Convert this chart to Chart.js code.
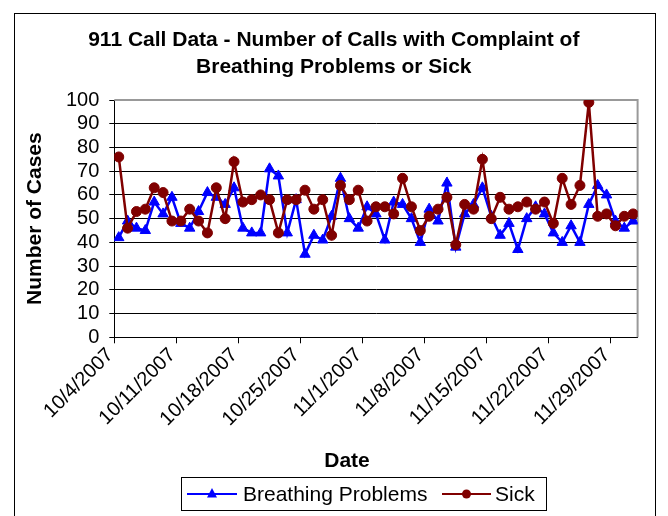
<!DOCTYPE html>
<html>
<head>
<meta charset="utf-8">
<script src="https://cdn.jsdelivr.net/npm/chart.js@4.4.1/dist/chart.umd.min.js"></script>
<style>
  html, body { margin: 0; padding: 0; background: #fff; }
  #wrap { width: 668px; height: 516px; }
</style>
</head>
<body>
<div id="wrap"><canvas id="myChart" width="668" height="516"></canvas></div>
<script>
// one entry per day, 10/4/2007 .. 12/1/2007
const dates = [
  '10/4/2007', '10/5/2007', '10/6/2007', '10/7/2007', '10/8/2007', '10/9/2007', '10/10/2007',
  '10/11/2007', '10/12/2007', '10/13/2007', '10/14/2007', '10/15/2007', '10/16/2007', '10/17/2007',
  '10/18/2007', '10/19/2007', '10/20/2007', '10/21/2007', '10/22/2007', '10/23/2007', '10/24/2007',
  '10/25/2007', '10/26/2007', '10/27/2007', '10/28/2007', '10/29/2007', '10/30/2007', '10/31/2007',
  '11/1/2007', '11/2/2007', '11/3/2007', '11/4/2007', '11/5/2007', '11/6/2007', '11/7/2007',
  '11/8/2007', '11/9/2007', '11/10/2007', '11/11/2007', '11/12/2007', '11/13/2007', '11/14/2007',
  '11/15/2007', '11/16/2007', '11/17/2007', '11/18/2007', '11/19/2007', '11/20/2007', '11/21/2007',
  '11/22/2007', '11/23/2007', '11/24/2007', '11/25/2007', '11/26/2007', '11/27/2007', '11/28/2007',
  '11/29/2007', '11/30/2007', '12/1/2007'
];

const breathing = [
  42, 49, 46, 45, 57, 52, 59, 48, 46, 53,
  61, 59, 56, 63, 46, 44, 44, 71, 68, 44,
  58, 35, 43, 41, 51, 67, 50, 46, 55, 52,
  41, 57, 56, 50, 40, 54, 49, 65, 38, 52,
  56, 63, 51, 43, 48, 37, 50, 55, 52, 44,
  40, 47, 40, 56, 64, 60, 49, 46, 49
];

const sick = [
  76, 46, 53, 54, 63, 61, 49, 49, 54, 49,
  44, 63, 50, 74, 57, 58, 60, 58, 44, 58,
  58, 62, 54, 58, 43, 64, 58, 62, 49, 55,
  55, 52, 67, 55, 45, 51, 54, 59, 39, 56,
  54, 75, 50, 59, 54, 55, 57, 54, 57, 48,
  67, 56, 64, 99, 51, 52, 47, 51, 52
];

const seriesNames = ['Breathing Problems', 'Sick'];
const FONT = '"Liberation Sans", Arial, sans-serif';

// points sit in the middle of each day slot, ticks on the day boundaries
const toPoints = arr => arr.map((v, i) => ({ x: i + 0.5, y: v }));

// outer chart frame
const framePlugin = {
  id: 'frame',
  beforeDraw(chart) {
    const ctx = chart.ctx;
    ctx.save();
    ctx.fillStyle = '#fff';
    ctx.fillRect(0, 0, chart.width, chart.height);
    ctx.strokeStyle = '#000';
    ctx.lineWidth = 1;
    ctx.strokeRect(14.5, 13.5, 641, 520);
    ctx.restore();
  }
};

// grey plot area border on top and right
const plotBorder = {
  id: 'plotBorder',
  beforeDatasetsDraw(chart) {
    const { ctx, chartArea: a } = chart;
    ctx.save();
    ctx.strokeStyle = '#999';
    ctx.lineWidth = 2;
    ctx.beginPath();
    ctx.moveTo(a.left, a.top);
    ctx.lineTo(a.right, a.top);
    ctx.lineTo(a.right, a.bottom);
    ctx.stroke();
    ctx.restore();
  }
};

// x title and the boxed legend, drawn like the Excel original
const legendBox = {
  id: 'legendBox',
  afterDraw(chart) {
    const ctx = chart.ctx;
    ctx.save();
    ctx.fillStyle = '#000';
    ctx.font = 'bold 21px ' + FONT;
    ctx.textAlign = 'center';
    ctx.textBaseline = 'middle';
    ctx.fillText('Date', 347, 461);

    ctx.strokeStyle = '#000';
    ctx.lineWidth = 1;
    ctx.strokeRect(181.5, 477.5, 365, 33);

    const y = 494;
    const items = [
      { x0: 187, x1: 237, tx: 243, color: '#0000ff', shape: 'triangle' },
      { x0: 442, x1: 491, tx: 495, color: '#800000', shape: 'circle' }
    ];
    ctx.font = '21px ' + FONT;
    ctx.textAlign = 'left';
    items.forEach((it, k) => {
      ctx.strokeStyle = it.color;
      ctx.fillStyle = it.color;
      ctx.lineWidth = 2;
      ctx.beginPath();
      ctx.moveTo(it.x0, y);
      ctx.lineTo(it.x1, y);
      ctx.stroke();
      const cx = (it.x0 + it.x1) / 2;
      ctx.beginPath();
      if (it.shape === 'triangle') {
        ctx.moveTo(cx, y - 6);
        ctx.lineTo(cx + 5, y + 3.5);
        ctx.lineTo(cx - 5, y + 3.5);
        ctx.closePath();
      } else {
        ctx.arc(cx, y, 4.5, 0, Math.PI * 2);
      }
      ctx.fill();
      ctx.fillStyle = '#000';
      ctx.fillText(seriesNames[k], it.tx, y + 1);
    });
    ctx.restore();
  }
};

const ctx = document.getElementById('myChart');
new Chart(ctx, {
  type: 'line',
  data: {
    datasets: [
      {
        label: seriesNames[0],
        data: toPoints(breathing),
        borderColor: '#0000ff',
        backgroundColor: '#0000ff',
        borderWidth: 2.5,
        pointStyle: 'triangle',
        pointRadius: 6,
        pointBorderWidth: 1,
        tension: 0,
        order: 1
      },
      {
        label: seriesNames[1],
        data: toPoints(sick),
        borderColor: '#800000',
        backgroundColor: '#800000',
        borderWidth: 2.5,
        pointStyle: 'circle',
        pointRadius: 5,
        pointBorderWidth: 1,
        tension: 0,
        order: 0
      }
    ]
  },
  options: {
    responsive: false,
    animation: false,
    devicePixelRatio: 1,
    layout: { padding: { left: 30, right: 30.4, top: 14, bottom: 0 } },
    plugins: {
      legend: { display: false },
      tooltip: { enabled: false },
      title: {
        display: true,
        text: ['911 Call Data - Number of Calls with Complaint of', 'Breathing Problems or Sick'],
        color: '#000',
        font: { family: FONT, size: 21, weight: 'bold', lineHeight: 1.286 },
        padding: { top: 12.5, bottom: 19.5 }
      }
    },
    scales: {
      x: {
        type: 'linear',
        min: 0,
        max: dates.length,
        afterFit: s => { s.height = 178.7; },
        border: { display: true, color: '#000', width: 1 },
        grid: { drawOnChartArea: false, drawTicks: true, tickLength: 6, color: '#000' },
        ticks: {
          stepSize: 7,
          includeBounds: false,
          autoSkip: false,
          minRotation: 45,
          maxRotation: 45,
          padding: 0,
          labelOffset: -4,
          color: '#000',
          font: { family: FONT, size: 20 },
          callback: v => dates[v]
        }
      },
      y: {
        min: 0,
        max: 100,
        afterFit: s => { s.width = 84.3; },
        border: { display: true, color: '#000', width: 1 },
        grid: { color: '#000', lineWidth: 1, tickLength: 5 },
        ticks: {
          stepSize: 10,
          autoSkip: false,
          padding: 10,
          color: '#000',
          font: { family: FONT, size: 20 }
        },
        title: {
          display: true,
          text: 'Number of Cases',
          color: '#000',
          font: { family: FONT, size: 21, weight: 'bold', lineHeight: 1.2 },
          padding: { top: -7.6, bottom: 0 }
        }
      }
    }
  },
  plugins: [framePlugin, plotBorder, legendBox]
});
</script>
</body>
</html>
